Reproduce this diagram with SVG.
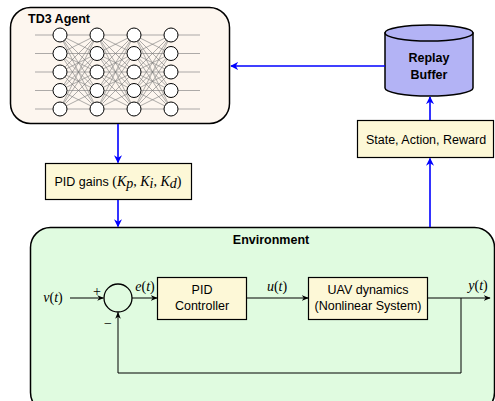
<svg xmlns="http://www.w3.org/2000/svg" xmlns:xlink="http://www.w3.org/1999/xlink" width="495" height="401" viewBox="0 0 495 401">
  <style>
    .sans { font-family: "Liberation Sans", "DejaVu Sans", sans-serif; font-size: 12.5px; fill: #000; }
    .bold { font-weight: bold; }
    .math { font-family: "Liberation Serif", "DejaVu Serif", serif; font-style: italic; font-size: 14px; fill: #000; }
    .mathup { font-family: "Liberation Serif", "DejaVu Serif", serif; font-style: normal; font-size: 14px; fill: #000; }
    .block { fill: #fdf8d7; stroke: #000; stroke-width: 1.2; }
    .blue { stroke: #0000ff; stroke-width: 1.6; fill: none; }
    .sig { stroke: #000; stroke-width: 1; fill: none; }
    .neuron { fill: #fff; stroke: #000; stroke-width: 1; }
    .mesh { stroke: #777; stroke-width: 0.6; fill: none; }
  </style>
  <defs>
    <marker id="ahBlue" viewBox="0 0 10 10" refX="9" refY="5" markerWidth="8" markerHeight="8" markerUnits="userSpaceOnUse" orient="auto">
      <path d="M0 0L10 5L0 10L3 5Z" fill="#0000ff"/>
    </marker>
    <marker id="ahBlack" viewBox="0 0 10 10" refX="9" refY="5" markerWidth="7" markerHeight="7" markerUnits="userSpaceOnUse" orient="auto">
      <path d="M0 1L10 5L0 9L3 5Z" fill="#000"/>
    </marker>
    <!-- full connections between two adjacent layers, 37px apart -->
    <path id="layerMesh" class="mesh" d="M0 35L37 35M0 35L37 53.5M0 35L37 72M0 35L37 90.5M0 35L37 109M0 53.5L37 35M0 53.5L37 53.5M0 53.5L37 72M0 53.5L37 90.5M0 53.5L37 109M0 72L37 35M0 72L37 53.5M0 72L37 72M0 72L37 90.5M0 72L37 109M0 90.5L37 35M0 90.5L37 53.5M0 90.5L37 72M0 90.5L37 90.5M0 90.5L37 109M0 109L37 35M0 109L37 53.5M0 109L37 72M0 109L37 90.5M0 109L37 109"/>
    <g id="layer">
      <circle class="neuron" cx="0" cy="35" r="7"/>
      <circle class="neuron" cx="0" cy="53.5" r="7"/>
      <circle class="neuron" cx="0" cy="72" r="7"/>
      <circle class="neuron" cx="0" cy="90.5" r="7"/>
      <circle class="neuron" cx="0" cy="109" r="7"/>
    </g>
  </defs>

  <!-- TD3 agent with its network -->
  <g id="agent">
    <rect x="10.5" y="7.5" width="219" height="116" rx="20" fill="#fdf6ef" stroke="#000" stroke-width="1.5"/>
    <text class="sans bold" x="28" y="23" font-size="14.5">TD3 Agent</text>
    <path class="mesh" d="M35 35H60M35 53.5H60M35 72H60M35 90.5H60M35 109H60M171 35H200M171 53.5H200M171 72H200M171 90.5H200M171 109H200"/>
    <use xlink:href="#layerMesh" transform="translate(60 0)"/>
    <use xlink:href="#layerMesh" transform="translate(97 0)"/>
    <use xlink:href="#layerMesh" transform="translate(134 0)"/>
    <use xlink:href="#layer" transform="translate(60 0)"/>
    <use xlink:href="#layer" transform="translate(97 0)"/>
    <use xlink:href="#layer" transform="translate(134 0)"/>
    <use xlink:href="#layer" transform="translate(171 0)"/>
  </g>

  <!-- replay buffer -->
  <g id="buffer">
    <path d="M385 33V88A44 8 0 0 0 473 88V33Z" fill="#b3b3f5" stroke="#000" stroke-width="1.5"/>
    <ellipse cx="429" cy="33" rx="44" ry="8" fill="#b3b3f5" stroke="#000" stroke-width="1.5"/>
    <text class="sans bold" x="429" y="62" text-anchor="middle" font-size="13.5">Replay</text>
    <text class="sans bold" x="429" y="79" text-anchor="middle" font-size="13.5">Buffer</text>
  </g>

  <!-- transition record -->
  <g id="transition">
    <rect class="block" x="357.5" y="120.5" width="136" height="37"/>
    <text class="sans" x="426" y="144" text-anchor="middle" font-size="13">State, Action, Reward</text>
  </g>

  <!-- PID gains output of the agent -->
  <g id="gains">
    <rect class="block" x="45.5" y="163.5" width="146" height="36"/>
    <text class="sans" x="118" y="186" text-anchor="middle" font-size="13">PID gains <tspan class="mathup">(</tspan><tspan class="math">K</tspan><tspan class="math" font-size="10" dy="2">p</tspan><tspan class="mathup" dy="-2">, </tspan><tspan class="math">K</tspan><tspan class="math" font-size="10" dy="2">i</tspan><tspan class="mathup" dy="-2">, </tspan><tspan class="math">K</tspan><tspan class="math" font-size="10" dy="2">d</tspan><tspan class="mathup" dy="-2">)</tspan></text>
  </g>

  <!-- environment: closed control loop -->
  <g id="environment">
    <rect x="30.5" y="227.5" width="464" height="185" rx="20" fill="#e0fbe0" stroke="#000" stroke-width="1.5"/>
    <text class="sans bold" x="271" y="244" text-anchor="middle" font-size="13">Environment</text>
  </g>

  <g id="sum">
    <circle cx="118" cy="298" r="14" fill="none" stroke="#000" stroke-width="1.3"/>
    <text class="mathup" x="97" y="296" text-anchor="middle" font-size="16">+</text>
    <text class="mathup" x="108" y="328" text-anchor="middle" font-size="18">−</text>
  </g>

  <g id="pid">
    <rect class="block" x="157.5" y="277.5" width="89" height="42"/>
    <text class="sans" x="202" y="294" text-anchor="middle" font-size="13">PID</text>
    <text class="sans" x="202" y="310" text-anchor="middle" font-size="13">Controller</text>
  </g>

  <g id="plant">
    <rect class="block" x="308.5" y="277.5" width="119" height="42"/>
    <text class="sans" x="368" y="294" text-anchor="middle" font-size="13">UAV dynamics</text>
    <text class="sans" x="368" y="310" text-anchor="middle" font-size="13">(Nonlinear System)</text>
  </g>

  <g id="signals">
    <text class="math" x="53" y="302" text-anchor="middle">v<tspan class="mathup">(</tspan>t<tspan class="mathup">)</tspan></text>
    <text class="math" x="145" y="291" text-anchor="middle">e<tspan class="mathup">(</tspan>t<tspan class="mathup">)</tspan></text>
    <text class="math" x="277" y="291" text-anchor="middle">u<tspan class="mathup">(</tspan>t<tspan class="mathup">)</tspan></text>
    <text class="math" x="478" y="290" text-anchor="middle">y<tspan class="mathup">(</tspan>t<tspan class="mathup">)</tspan></text>
  </g>

  <g id="connectors">
    <!-- learning loop -->
    <path class="blue" d="M385 66H231" marker-end="url(#ahBlue)"/>
    <path class="blue" d="M430 120V97" marker-end="url(#ahBlue)"/>
    <path class="blue" d="M430 227V158.5" marker-end="url(#ahBlue)"/>
    <path class="blue" d="M118 124V162.5" marker-end="url(#ahBlue)"/>
    <path class="blue" d="M118 200V226.5" marker-end="url(#ahBlue)"/>
    <!-- control loop -->
    <path class="sig" d="M70 298H103.5" marker-end="url(#ahBlack)"/>
    <path class="sig" d="M132 298H157" marker-end="url(#ahBlack)"/>
    <path class="sig" d="M247 298H308" marker-end="url(#ahBlack)"/>
    <path class="sig" d="M428 298H490" marker-end="url(#ahBlack)"/>
    <path class="sig" d="M461 298V373H118V312.5" marker-end="url(#ahBlack)"/>
  </g>
</svg>
